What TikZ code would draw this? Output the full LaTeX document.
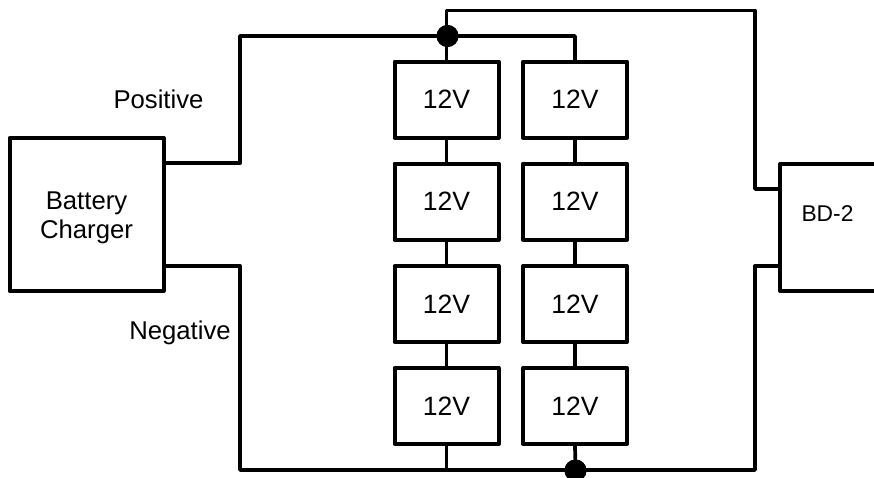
\documentclass[tikz,border=0pt]{standalone}
\usepackage{fontspec}
\setmainfont{Liberation Sans}
\usetikzlibrary{calc}
\tikzset{
  x=1pt,y=-1pt,
  wire/.style={line width=3.7pt,line join=round,line cap=round},
  boxnode/.style={draw,line width=4pt,line join=round,fill=white,inner sep=0pt,minimum width=#1,anchor=center},
  cell/.style={boxnode=104pt,minimum height=76pt,font=\fontsize{26.5pt}{29pt}\selectfont},
  dotnode/.style={circle,fill=black,draw=none,minimum size=22pt,inner sep=0pt},
  lbl/.style={font=\fontsize{25.7pt}{28.5pt}\selectfont,inner sep=0pt,align=center}
}
\begin{document}
\begin{tikzpicture}
\useasboundingbox (0,0) rectangle (874,477);
\clip (0,0) rectangle (874,477);
% nodes
\node[boxnode=154pt,minimum height=153pt] (charger) at (86.5,214.5) {};
\node[lbl] (chargertext) at (86.5,218) {Battery\\Charger};
\node[boxnode=96pt,minimum height=127pt] (bd) at (828,227.5) {};
\node[lbl,font=\fontsize{22.8pt}{26pt}\selectfont] (bdtext) at (827.5,214) {BD-2};
\foreach \c/\x in {a/446.5,b/575}{
  \node[cell] (\c1) at (\x,99.5) {12V};
  \node[cell] (\c2) at (\x,201.5) {12V};
  \node[cell] (\c3) at (\x,304) {12V};
  \node[cell] (\c4) at (\x,406) {12V};
}
\coordinate (chgP) at (164,163.3);
\coordinate (chgN) at (164,265.8);
\coordinate (bdP) at (780,189);
\coordinate (bdN) at (780,265.8);
\coordinate (topcol) at (240,36);
\coordinate (botcol) at (240,470);
\coordinate (toptop) at (755,10.5);
\coordinate (botend) at (755,470);
\node[dotnode] (jt) at (447.5,36) {};
\node[dotnode] (jb) at (575.5,470.5) {};
% connectors
\draw[wire] (chgP) -| (topcol) -- (jt);
\draw[wire] (a1.north) -- (a1.north |- toptop) -- (toptop) -- (toptop |- bdP) -- (bdP);
\draw[wire] (jt) -| (b1.north);
\draw[wire] (chgN) -| (botcol) -- (botend) |- (bdN);
\draw[wire] (a4.south) -- (a4.south |- botcol);
\draw[wire] (b4.south) -- (jb);
\foreach \c in {a,b}{
  \draw[wire] (\c1.south) -- (\c2.north);
  \draw[wire] (\c2.south) -- (\c3.north);
  \draw[wire] (\c3.south) -- (\c4.north);
}
\fill (jt) circle (11pt);
\fill (jb) circle (11pt);
% labels
\node[lbl] (pos) at (158.5,99) {Positive};
\node[lbl] (neg) at (180,333) {Negative};
\end{tikzpicture}
\end{document}
